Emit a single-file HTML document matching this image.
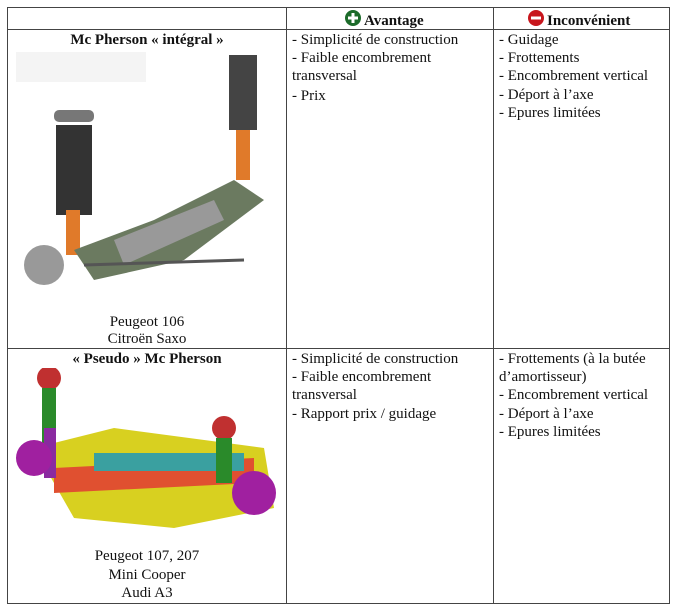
<!DOCTYPE html><html><head><style>
body{margin:0;background:#fff;width:675px;height:607px;position:relative;overflow:hidden;font-family:"Liberation Serif",serif;color:#111}
.l{position:absolute;background:#444}
.t{position:absolute;font-size:15px;white-space:nowrap;line-height:18px}
.c{text-align:center}
b{font-weight:bold}
</style></head><body>
<div class="l" style="left:7px;top:7px;width:663px;height:1px"></div>
<div class="l" style="left:7px;top:29px;width:663px;height:1px"></div>
<div class="l" style="left:7px;top:348px;width:663px;height:1px"></div>
<div class="l" style="left:7px;top:603px;width:663px;height:1px"></div>
<div class="l" style="left:7px;top:7px;width:1px;height:597px"></div>
<div class="l" style="left:286px;top:7px;width:1px;height:597px"></div>
<div class="l" style="left:493px;top:7px;width:1px;height:597px"></div>
<div class="l" style="left:669px;top:7px;width:1px;height:597px"></div>

<svg style="position:absolute;left:344px;top:9px" width="18" height="18"><circle cx="9" cy="9" r="8" fill="#1c6b2a"/><rect x="4" y="7.5" width="10" height="3" fill="#fff"/><rect x="7.5" y="4" width="3" height="10" fill="#fff"/></svg>
<div class="t" style="left:364px;top:12px"><b>Avantage</b></div>
<svg style="position:absolute;left:527px;top:9px" width="18" height="18"><circle cx="9" cy="9" r="8" fill="#c8161d"/><rect x="4" y="7.5" width="10" height="3" fill="#fff"/></svg>
<div class="t" style="left:547px;top:12px"><b>Inconvénient</b></div>

<div class="t c" style="left:8px;width:278px;top:31px"><b>Mc Pherson « intégral »</b></div>
<svg style="position:absolute;left:14px;top:50px" width="268" height="250">
<rect x="2" y="2" width="130" height="30" fill="#f4f4f4"/>
<rect x="40" y="60" width="40" height="12" rx="5" fill="#777"/>
<rect x="42" y="75" width="36" height="90" fill="#333"/>
<rect x="52" y="160" width="14" height="45" fill="#e07a2a"/>
<circle cx="30" cy="215" r="20" fill="#999"/>
<rect x="215" y="5" width="28" height="75" fill="#444"/>
<rect x="222" y="80" width="14" height="50" fill="#e07a2a"/>
<polygon points="60,200 140,170 220,130 250,150 170,210 80,230" fill="#6b7a60"/>
<polygon points="100,190 200,150 210,170 110,215" fill="#999"/>
<line x1="70" y1="215" x2="230" y2="210" stroke="#555" stroke-width="3"/>
</svg>
<div class="t c" style="left:8px;width:278px;top:313px">Peugeot 106</div>
<div class="t c" style="left:8px;width:278px;top:330px">Citroën Saxo</div>

<div class="t" style="left:292px;top:31px">- Simplicité de construction</div>
<div class="t" style="left:292px;top:49px">- Faible encombrement</div>
<div class="t" style="left:292px;top:67px">transversal</div>
<div class="t" style="left:292px;top:87px">- Prix</div>
<div class="t" style="left:499px;top:31px">- Guidage</div>
<div class="t" style="left:499px;top:49px">- Frottements</div>
<div class="t" style="left:499px;top:67px">- Encombrement vertical</div>
<div class="t" style="left:499px;top:86px">- Déport à l’axe</div>
<div class="t" style="left:499px;top:104px">- Epures limitées</div>

<div class="t c" style="left:8px;width:278px;top:350px"><b>« Pseudo » Mc Pherson</b></div>
<svg style="position:absolute;left:14px;top:368px" width="268" height="170">
<polygon points="20,80 100,60 250,80 260,140 160,160 60,150" fill="#d8d020"/>
<polygon points="40,100 240,90 240,115 40,125" fill="#e05030"/>
<rect x="80" y="85" width="150" height="18" fill="#3aa0a0"/>
<circle cx="35" cy="10" r="12" fill="#c03030"/>
<rect x="28" y="20" width="14" height="55" fill="#2a8a2a"/>
<rect x="30" y="60" width="12" height="50" fill="#8a2aa0"/>
<circle cx="20" cy="90" r="18" fill="#a020a0"/>
<circle cx="210" cy="60" r="12" fill="#c03030"/>
<rect x="202" y="70" width="16" height="45" fill="#2a8a2a"/>
<circle cx="240" cy="125" r="22" fill="#a020a0"/>
</svg>
<div class="t c" style="left:8px;width:278px;top:547px">Peugeot 107, 207</div>
<div class="t c" style="left:8px;width:278px;top:566px">Mini Cooper</div>
<div class="t c" style="left:8px;width:278px;top:584px">Audi A3</div>

<div class="t" style="left:292px;top:350px">- Simplicité de construction</div>
<div class="t" style="left:292px;top:368px">- Faible encombrement</div>
<div class="t" style="left:292px;top:386px">transversal</div>
<div class="t" style="left:292px;top:405px">- Rapport prix / guidage</div>
<div class="t" style="left:499px;top:350px">- Frottements (à la butée</div>
<div class="t" style="left:499px;top:368px">d’amortisseur)</div>
<div class="t" style="left:499px;top:386px">- Encombrement vertical</div>
<div class="t" style="left:499px;top:405px">- Déport à l’axe</div>
<div class="t" style="left:499px;top:423px">- Epures limitées</div>
</body></html>
